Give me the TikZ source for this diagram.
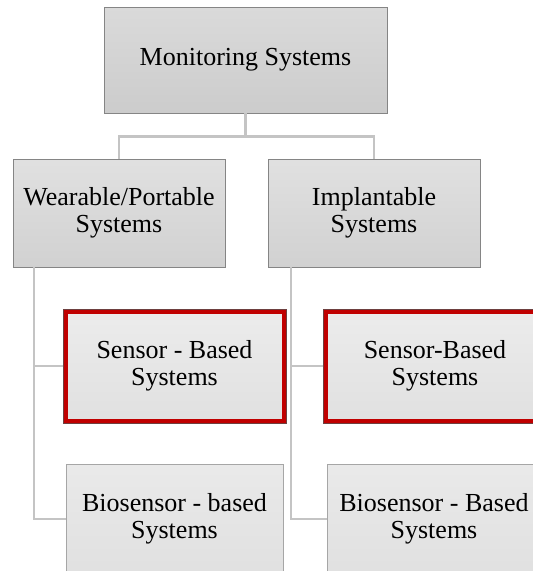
\documentclass[tikz,border=0pt]{standalone}
\usepackage{fontspec}
\setmainfont{Liberation Serif}
\definecolor{boxedge}{HTML}{858585}
\definecolor{linkgray}{HTML}{C4C4C4}
\definecolor{framered}{HTML}{C00000}
\definecolor{frameedge}{HTML}{6E4040}
\tikzset{
  box/.style={rectangle, draw=boxedge, line width=0.8pt, align=center,
    inner sep=2pt, font=\fontsize{26}{27.5}\selectfont},
  headbox/.style={box, top color=gray!29!white, bottom color=gray!40!white},
  midbox/.style={box, top color=gray!24!white, bottom color=gray!36!white},
  leafbox/.style={box, top color=gray!17!white, bottom color=gray!24!white, draw=gray!70},
  redbox/.style={box, top color=gray!15!white, bottom color=gray!24!white,
    draw=framered, line width=4.5pt},
  link/.style={draw=linkgray, line width=2.8pt}
}
\begin{document}
\begin{tikzpicture}[x=1pt, y=-1pt]
  \useasboundingbox (0,0) rectangle (533,571);
  \clip (0,0) rectangle (533,571);

  % foot points of the vertical connectors
  \coordinate (wearfoot) at (34,266);
  \coordinate (implfoot) at (291,266);

  % boxes
  \node[headbox, minimum width=283pt, minimum height=106pt] (mon) at (245.5,60) {Monitoring Systems};
  \node[midbox, minimum width=212pt, minimum height=108pt] (wear) at (119,213) {Wearable/Portable\\Systems};
  \node[midbox, minimum width=212pt, minimum height=108pt] (impl) at (374,213) {Implantable\\Systems};

  \node[redbox, minimum width=218.5pt, minimum height=109.5pt] (sl) at (174.5,366) {Sensor - Based\\Systems};
  \node[redbox, minimum width=219.5pt, minimum height=109.5pt] (sr) at (435,366) {Sensor-Based\\Systems};
  \node[leafbox, minimum width=217pt, minimum height=110pt] (bl) at (174.5,519) {Biosensor - based\\Systems};
  \node[leafbox, minimum width=214pt, minimum height=110pt] (br) at (434,519) {Biosensor - Based\\Systems};

  % thin dark rim around the red frames (anchors lie on the outer edge)
  \foreach \n in {sl,sr}{
    \draw[frameedge, line width=0.7pt] (\n.north west) rectangle (\n.south east);
  }

  % tree connectors
  \path[link] (mon.south) -- ++(0,23) -| (wear.north);
  \path[link] (mon.south) ++(0,23) -| (impl.north);
  \path[link] (mon.south) -- ++(0,23);

  \path[link] (wear.south -| wearfoot) |- (sl.west);
  \path[link] (wear.south -| wearfoot) |- (bl.west);
  \path[link] (impl.south -| implfoot) |- (sr.west);
  \path[link] (impl.south -| implfoot) |- (br.west);
\end{tikzpicture}
\end{document}
